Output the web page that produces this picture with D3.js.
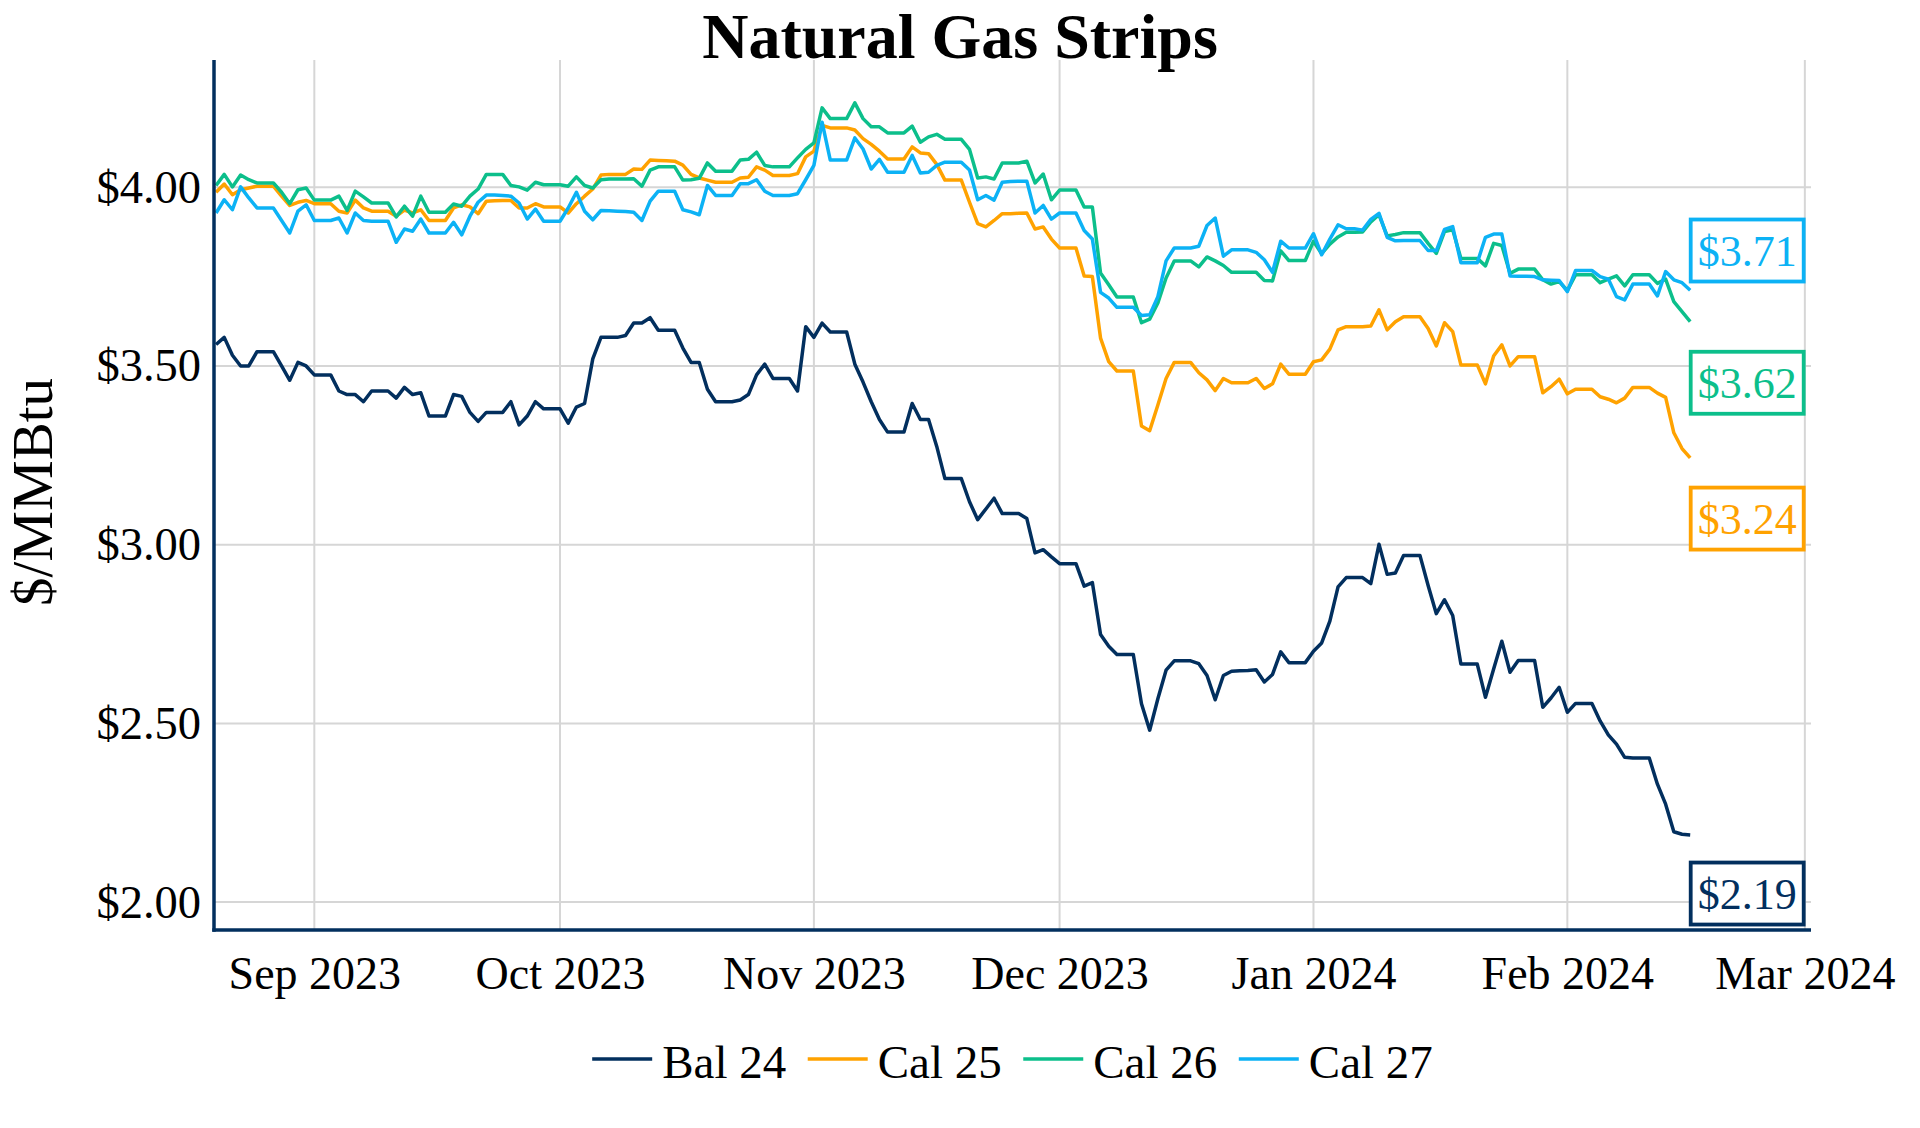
<!DOCTYPE html>
<html>
<head>
<meta charset="utf-8">
<script src="https://cdn.jsdelivr.net/npm/d3@7"></script>
<style>
  body { margin: 0; background: #fff; }
  text { font-family: "Liberation Serif", "Times New Roman", serif; }
</style>
</head>
<body>
<script>

// daily strip prices from Sun 2023-08-20, one row per week (Sun..Sat)
var startDate = new Date(2023, 7, 20);

var bal24 = [
  3.56,3.58,3.53,3.50,3.50,3.54,3.54,
  3.54,3.50,3.46,3.51,3.50,3.475,3.475,
  3.475,3.43,3.42,3.42,3.40,3.43,3.43,
  3.43,3.41,3.44,3.42,3.425,3.36,3.36,
  3.36,3.42,3.415,3.37,3.345,3.37,3.37,
  3.37,3.40,3.335,3.36,3.40,3.38,3.38,
  3.38,3.34,3.385,3.395,3.52,3.58,3.58,
  3.58,3.585,3.62,3.62,3.635,3.60,3.60,
  3.60,3.55,3.51,3.51,3.435,3.40,3.40,
  3.40,3.405,3.42,3.475,3.505,3.465,3.465,
  3.465,3.43,3.61,3.58,3.62,3.595,3.595,
  3.595,3.505,3.455,3.40,3.35,3.315,3.315,
  3.315,3.395,3.35,3.35,3.275,3.185,3.185,
  3.185,3.12,3.07,3.10,3.13,3.087,3.087,
  3.087,3.073,2.977,2.986,2.966,2.947,2.947,
  2.947,2.884,2.894,2.749,2.716,2.693,2.693,
  2.693,2.555,2.481,2.569,2.649,2.675,2.675,
  2.675,2.667,2.634,2.566,2.634,2.646,2.647,
  2.648,2.650,2.616,2.637,2.700,2.670,2.670,
  2.670,2.702,2.725,2.786,2.882,2.908,2.908,
  2.908,2.891,3.001,2.917,2.921,2.970,2.970,
  2.970,2.886,2.807,2.846,2.802,2.666,2.666,
  2.666,2.573,2.652,2.730,2.643,2.676,2.676,
  2.676,2.545,2.571,2.601,2.531,2.556,2.556,
  2.556,2.507,2.468,2.442,2.405,2.403,2.403,
  2.403,2.330,2.274,2.197,2.190,2.188
];

var cal25 = [
  3.986,4.009,3.979,3.993,3.998,4.003,4.003,
  4.003,3.975,3.949,3.958,3.963,3.954,3.954,
  3.954,3.933,3.928,3.964,3.942,3.933,3.933,
  3.933,3.919,3.936,3.928,3.937,3.907,3.907,
  3.907,3.942,3.951,3.945,3.926,3.961,3.962,
  3.963,3.963,3.942,3.942,3.954,3.945,3.945,
  3.945,3.928,3.954,3.975,3.995,4.034,4.036,
  4.036,4.036,4.051,4.050,4.076,4.075,4.074,
  4.073,4.062,4.036,4.026,4.020,4.014,4.014,
  4.014,4.026,4.028,4.057,4.048,4.033,4.033,
  4.033,4.038,4.085,4.101,4.173,4.166,4.166,
  4.166,4.160,4.136,4.120,4.101,4.079,4.079,
  4.079,4.113,4.096,4.094,4.064,4.020,4.020,
  4.020,3.958,3.898,3.889,3.907,3.926,3.926,
  3.927,3.928,3.883,3.889,3.855,3.830,3.830,
  3.830,3.752,3.750,3.578,3.512,3.486,3.486,
  3.486,3.332,3.319,3.391,3.465,3.510,3.510,
  3.510,3.481,3.461,3.431,3.465,3.453,3.453,
  3.453,3.465,3.437,3.450,3.505,3.477,3.477,
  3.477,3.512,3.517,3.547,3.601,3.610,3.610,
  3.610,3.612,3.657,3.601,3.624,3.638,3.638,
  3.638,3.605,3.556,3.621,3.596,3.503,3.503,
  3.503,3.450,3.528,3.559,3.500,3.526,3.526,
  3.526,3.425,3.442,3.463,3.422,3.435,3.435,
  3.435,3.414,3.407,3.397,3.410,3.440,3.440,
  3.440,3.424,3.412,3.313,3.269,3.243
];

var cal26 = [
  4.005,4.036,4.001,4.034,4.021,4.012,4.012,
  4.012,3.986,3.954,3.993,3.998,3.964,3.964,
  3.964,3.975,3.935,3.989,3.973,3.956,3.956,
  3.956,3.917,3.947,3.919,3.975,3.930,3.930,
  3.930,3.953,3.947,3.975,3.995,4.036,4.036,
  4.036,4.005,4.001,3.992,4.014,4.007,4.007,
  4.007,4.003,4.029,4.005,3.998,4.021,4.023,
  4.023,4.023,4.024,4.003,4.048,4.057,4.057,
  4.057,4.020,4.021,4.025,4.068,4.045,4.045,
  4.045,4.076,4.078,4.098,4.061,4.057,4.057,
  4.057,4.082,4.106,4.124,4.222,4.192,4.192,
  4.192,4.236,4.192,4.169,4.169,4.152,4.152,
  4.152,4.171,4.126,4.141,4.148,4.134,4.134,
  4.134,4.106,4.026,4.029,4.023,4.068,4.068,
  4.068,4.073,4.012,4.037,3.965,3.992,3.992,
  3.992,3.945,3.945,3.760,3.727,3.693,3.693,
  3.693,3.621,3.631,3.676,3.746,3.794,3.794,
  3.794,3.777,3.805,3.794,3.781,3.762,3.762,
  3.762,3.762,3.739,3.738,3.822,3.795,3.795,
  3.795,3.849,3.814,3.841,3.861,3.874,3.874,
  3.875,3.903,3.923,3.864,3.868,3.873,3.873,
  3.873,3.843,3.815,3.876,3.881,3.801,3.801,
  3.801,3.780,3.843,3.837,3.759,3.771,3.771,
  3.771,3.741,3.729,3.736,3.711,3.755,3.755,
  3.755,3.733,3.743,3.752,3.724,3.755,3.755,
  3.755,3.731,3.743,3.680,3.652,3.624
];

var cal27 = [
  3.928,3.965,3.937,4.001,3.970,3.942,3.942,
  3.942,3.907,3.872,3.933,3.951,3.907,3.907,
  3.907,3.914,3.872,3.928,3.907,3.905,3.905,
  3.905,3.846,3.883,3.877,3.911,3.872,3.872,
  3.872,3.902,3.867,3.919,3.958,3.978,3.978,
  3.977,3.975,3.956,3.911,3.939,3.905,3.905,
  3.905,3.942,3.986,3.933,3.909,3.935,3.934,
  3.933,3.932,3.930,3.907,3.961,3.989,3.989,
  3.989,3.937,3.931,3.923,4.005,3.977,3.977,
  3.977,4.010,4.010,4.021,3.989,3.977,3.977,
  3.977,3.982,4.021,4.061,4.182,4.076,4.076,
  4.076,4.138,4.107,4.051,4.078,4.042,4.042,
  4.042,4.089,4.040,4.042,4.061,4.070,4.070,
  4.070,4.048,3.965,3.977,3.964,4.014,4.016,
  4.017,4.017,3.928,3.949,3.911,3.928,3.928,
  3.928,3.879,3.855,3.706,3.690,3.664,3.664,
  3.664,3.641,3.643,3.694,3.794,3.830,3.830,
  3.830,3.835,3.893,3.914,3.807,3.825,3.825,
  3.825,3.818,3.797,3.762,3.849,3.830,3.830,
  3.830,3.870,3.811,3.855,3.895,3.884,3.884,
  3.880,3.910,3.927,3.860,3.850,3.851,3.851,
  3.851,3.823,3.823,3.882,3.890,3.789,3.789,
  3.789,3.860,3.869,3.869,3.752,3.751,3.751,
  3.750,3.741,3.740,3.739,3.708,3.767,3.767,
  3.767,3.750,3.743,3.694,3.685,3.729,3.729,
  3.729,3.696,3.764,3.741,3.733,3.712
];

var seriesNames = ["Bal 24", "Cal 25", "Cal 26", "Cal 27"];
var seriesColors = ["#022f5e", "#ffa200", "#0cbf8b", "#0cb2f5"];
var yTicks = [2.0, 2.5, 3.0, 3.5, 4.0];
// where the end-value tags sit, in $/MMBtu
var tagAt = [2.024, 3.073, 3.453, 3.823];

var width = 1920;
var height = 1128;
const margin = {left: 214, top: 60, right: 109, bottom: 198};

var dates = d3.timeDay.range(startDate, d3.timeDay.offset(startDate, bal24.length));
var series = [bal24, cal25, cal26, cal27].map(function(vals, i) {
  return {name: seriesNames[i], color: seriesColors[i], tag: tagAt[i],
          values: vals.map(function(v, j) { return {date: dates[j], value: v}; })};
});

var svg = d3.select("body").append("svg")
      .attr("width", width)
      .attr("height", height);

var x = d3.scaleTime()
    .domain([d3.timeHour.offset(startDate, -6), d3.timeHour.offset(new Date(2024, 2, 1), 18)])
    .range([margin.left, width - margin.right]);

var y = d3.scaleLinear()
    .domain([1.922, 4.356])
    .range([height - margin.bottom, margin.top]);

var months = d3.timeMonth.range(new Date(2023, 8, 1), new Date(2024, 2, 2));

// **** grid *****************
svg.append("g").selectAll("line")
  .data(months)
  .join("line")
    .attr("x1", function(d) { return x(d); })
    .attr("x2", function(d) { return x(d); })
    .attr("y1", margin.top)
    .attr("y2", height - margin.bottom)
    .attr("stroke", "#d6d6d6")
    .attr("stroke-width", 2);

svg.append("g").selectAll("line")
  .data(yTicks)
  .join("line")
    .attr("x1", margin.left)
    .attr("x2", width - margin.right)
    .attr("y1", function(d) { return y(d); })
    .attr("y2", function(d) { return y(d); })
    .attr("stroke", "#d6d6d6")
    .attr("stroke-width", 2);

// **** axes *****************
var xAxis = svg.append("g")
    .attr("transform", "translate(0," + (height - margin.bottom) + ")")
    .call(d3.axisBottom(x).tickValues(months).tickFormat(d3.timeFormat("%b %Y")).tickSize(0).tickPadding(26));
xAxis.select(".domain").remove();
xAxis.selectAll("text")
    .attr("font-size", 46)
    .attr("fill", "#000")
    .attr("font-family", "Liberation Serif, Times New Roman, serif");

var yAxis = svg.append("g")
    .attr("transform", "translate(" + margin.left + ",0)")
    .call(d3.axisLeft(y).tickValues(yTicks).tickFormat(d3.format("$.2f")).tickSize(0).tickPadding(13));
yAxis.select(".domain").remove();
yAxis.selectAll("text")
    .attr("font-size", 46.5)
    .attr("fill", "#000")
    .attr("font-family", "Liberation Serif, Times New Roman, serif");

svg.append("text")
    .attr("transform", "translate(52," + ((margin.top + height - margin.bottom) / 2 - 3) + ") rotate(-90)")
    .attr("text-anchor", "middle")
    .attr("font-size", 57)
    .text("$/MMBtu");

svg.append("text")
    .attr("x", width / 2)
    .attr("y", 58)
    .attr("text-anchor", "middle")
    .attr("font-size", 64)
    .attr("font-weight", "bold")
    .text("Natural Gas Strips");

// **** lines *****************
var line = d3.line()
    .x(function(d) { return x(d.date); })
    .y(function(d) { return y(d.value); });

svg.append("g").selectAll("path")
  .data(series)
  .join("path")
    .attr("fill", "none")
    .attr("stroke", function(d) { return d.color; })
    .attr("stroke-width", 3.5)
    .attr("stroke-linejoin", "round")
    .attr("d", function(d) { return line(d.values); });

// **** end tags *****************
var tag = svg.append("g").selectAll("g")
  .data(series)
  .join("g")
    .attr("transform", function(d) {
      var last = d.values[d.values.length - 1];
      return "translate(" + (x(last.date) + 0.5) + "," + y(d.tag) + ")";
    });

tag.append("rect")
    .attr("x", 0)
    .attr("y", -31)
    .attr("width", 113)
    .attr("height", 62)
    .attr("fill", "#fff")
    .attr("stroke", function(d) { return d.color; })
    .attr("stroke-width", 3.8);

tag.append("text")
    .attr("x", 56.5)
    .attr("y", 15.5)
    .attr("text-anchor", "middle")
    .attr("font-size", 44)
    .attr("fill", function(d) { return d.color; })
    .text(function(d) { return d3.format("$.2f")(d.values[d.values.length - 1].value); });

// axis lines drawn over everything
svg.append("line")
    .attr("x1", margin.left).attr("x2", margin.left)
    .attr("y1", margin.top).attr("y2", height - margin.bottom + 1.7)
    .attr("stroke", "#022f5e").attr("stroke-width", 3.5);
svg.append("line")
    .attr("x1", margin.left - 1.7).attr("x2", width - margin.right)
    .attr("y1", height - margin.bottom).attr("y2", height - margin.bottom)
    .attr("stroke", "#022f5e").attr("stroke-width", 3.5);

// **** legend *****************
var legend = svg.append("g");
var item = legend.selectAll("g")
  .data(series)
  .join("g");

item.append("line")
    .attr("x1", 0).attr("x2", 60)
    .attr("y1", 0).attr("y2", 0)
    .attr("stroke", function(d) { return d.color; })
    .attr("stroke-width", 3.6);

item.append("text")
    .attr("x", 70)
    .attr("y", 18.5)
    .attr("font-size", 47)
    .text(function(d) { return d.name; });

var offset = 0;
item.each(function() {
  var g = d3.select(this);
  g.attr("transform", "translate(" + offset + ",0)");
  offset += 70 + g.select("text").node().getComputedTextLength() + 21.5;
});
offset -= 21.5;
var plotMid = (margin.left + width - margin.right) / 2;
legend.attr("transform", "translate(" + (plotMid - offset / 2) + ",1059)");

</script>
</body>
</html>
